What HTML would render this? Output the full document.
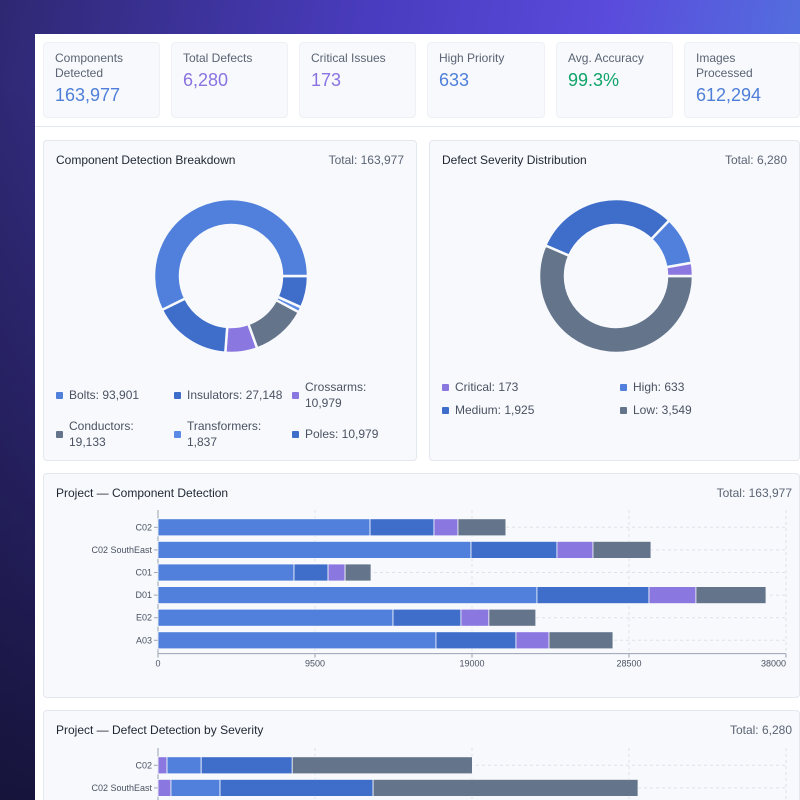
<!DOCTYPE html>
<html><head><meta charset="utf-8"><style>
*{box-sizing:border-box;margin:0;padding:0}
html,body{width:800px;height:800px;overflow:hidden}
body{font-family:"Liberation Sans",sans-serif;background:linear-gradient(100deg,#2e2872 0%,#4a3cbf 40%,#5a4bdc 65%,#4f86df 100%);position:relative}
.bgfade{position:absolute;left:0;top:0;width:800px;height:800px;background:linear-gradient(180deg,rgba(0,0,0,0) 0%,rgba(0,0,0,0) 10%,rgba(10,10,30,0.75) 100%);}
.main{position:absolute;left:35px;top:34px;width:765px;height:766px;background:#fff;overflow:hidden}
.card{position:absolute;top:8px;height:76px;background:#f7f9fc;border:1px solid #eef1f5;border-radius:4px;padding:8px 11px}
.card .l{font-size:12px;color:#5b6474;line-height:15px}
.card .v{font-size:18px;margin-top:4px}
.sep{position:absolute;left:0;top:92px;width:765px;height:1px;background:#e3e7ee}
.panel{position:absolute;background:#f7f9fc;border:1px solid #e3e7ee;border-radius:4px}
.pt{position:absolute;left:12px;top:12px;font-size:12px;color:#1f2633}
.tot{position:absolute;right:12px;top:12px;font-size:12px;color:#5b6474}
.lg{position:absolute;font-size:12px;color:#4a5262;line-height:16px;padding-left:13px}
.lg i{position:absolute;left:0;top:5px;width:7px;height:7px;border-radius:1px}
</style></head><body>
<div class="bgfade"></div>
<div class="main">
<div class="card" style="left:8px;width:117px"><div class="l">Components Detected</div><div class="v" style="color:#4f7fd8">163,977</div></div>
<div class="card" style="left:136px;width:117px"><div class="l">Total Defects</div><div class="v" style="color:#8a73e0">6,280</div></div>
<div class="card" style="left:264px;width:117px"><div class="l">Critical Issues</div><div class="v" style="color:#8a73e0">173</div></div>
<div class="card" style="left:392px;width:118px"><div class="l">High Priority</div><div class="v" style="color:#4f7fd8">633</div></div>
<div class="card" style="left:521px;width:117px"><div class="l">Avg. Accuracy</div><div class="v" style="color:#10a46a">99.3%</div></div>
<div class="card" style="left:649px;width:116px"><div class="l">Images Processed</div><div class="v" style="color:#4f7fd8">612,294</div></div>
<div class="sep"></div>

<div class="panel" style="left:8px;top:106px;width:374px;height:321px">
<div class="pt">Component Detection Breakdown</div>
<div class="tot">Total: 163,977</div>
<svg id="d1" width="372" height="240" style="position:absolute;left:0;top:0"></svg>
<div class="lg" style="left:12px;top:246px"><i style="background:#5080dc"></i>Bolts: 93,901</div>
<div class="lg" style="left:130px;top:246px"><i style="background:#3f6dca"></i>Insulators: 27,148</div>
<div class="lg" style="left:248px;top:238px"><i style="background:#8a77e0;top:13px"></i>Crossarms:<br>10,979</div>
<div class="lg" style="left:12px;top:277px"><i style="background:#64748b;top:13px"></i>Conductors:<br>19,133</div>
<div class="lg" style="left:130px;top:277px"><i style="background:#5b8ae6;top:13px"></i>Transformers:<br>1,837</div>
<div class="lg" style="left:248px;top:285px"><i style="background:#3f6dca"></i>Poles: 10,979</div>
</div>

<div class="panel" style="left:394px;top:106px;width:371px;height:321px">
<div class="pt">Defect Severity Distribution</div>
<div class="tot">Total: 6,280</div>
<svg id="d2" width="369" height="240" style="position:absolute;left:0;top:0"></svg>
<div class="lg" style="left:12px;top:238px"><i style="background:#8a77e0"></i>Critical: 173</div>
<div class="lg" style="left:190px;top:238px"><i style="background:#5080dc"></i>High: 633</div>
<div class="lg" style="left:12px;top:261px"><i style="background:#3f6dca"></i>Medium: 1,925</div>
<div class="lg" style="left:190px;top:261px"><i style="background:#64748b"></i>Low: 3,549</div>
</div>

<div class="panel" style="left:8px;top:439px;width:757px;height:225px">
<div class="pt">Project — Component Detection</div>
<div class="tot" style="right:7px">Total: 163,977</div>
<svg id="b1" width="755" height="223" style="position:absolute;left:0;top:0"></svg>
</div>
<div class="panel" style="left:8px;top:676px;width:757px;height:90px;border-bottom:none;border-radius:4px 4px 0 0">
<div class="pt">Project — Defect Detection by Severity</div>
<div class="tot" style="right:7px">Total: 6,280</div>
<svg id="b2" width="755" height="89" style="position:absolute;left:0;top:0"></svg>
</div>
</div>
<script>
const compLabels=["Bolts","Insulators","Crossarms","Conductors","Transformers","Poles"];
const compValues=[93901,27148,10979,19133,1837,10979];
const compColors=["#5080dc","#3f6dca","#8a77e0","#64748b","#5b8ae6","#3f6dca"];
const sevLabels=["Critical","High","Medium","Low"];
const sevValues=[173,633,1925,3549];
const sevColors=["#8a77e0","#5080dc","#3f6dca","#64748b"];
const projects=["C02","C02 SouthEast","C01","D01","E02","A03"];
const bolts=[12830,18940,8230,22930,14220,16820];
const insulators=[3870,5200,2060,6780,4110,4840];
const crossarms=[1450,2180,1030,2840,1690,2000];
const conductors=[2900,3510,1570,4240,2840,3870];
const compTicks=[0,9500,19000,28500,38000];
const defProjects=["C02","C02 SouthEast"];
const critical=[23,33];
const high=[87,125];
const medium=[232,390];
const low=[459,675];
const defMax=1600;
const NS="http://www.w3.org/2000/svg";
function mk(p,t,a){const e=document.createElementNS(NS,t);for(const k in a)e.setAttribute(k,a[k]);p.appendChild(e);return e;}
function donutRev(svg,vals,cols,labels,cx,cy,R,r){
 const v=[...vals].reverse(),c=[...cols].reverse(),l=[...labels].reverse();
 const tot=v.reduce((a,b)=>a+b,0);let ang=0;
 v.forEach((val,i)=>{const a0=ang,a1=ang+val/tot*2*Math.PI;ang=a1;
  const P=(rad,a)=>[cx+rad*Math.cos(a),cy+rad*Math.sin(a)];
  const [x0,y0]=P(R,a0),[x1,y1]=P(R,a1),[x2,y2]=P(r,a1),[x3,y3]=P(r,a0);
  const lg=(a1-a0)>Math.PI?1:0;
  const p=mk(svg,"path",{d:`M${x0},${y0}A${R},${R} 0 ${lg} 1 ${x1},${y1}L${x2},${y2}A${r},${r} 0 ${lg} 0 ${x3},${y3}Z`,fill:c[i],stroke:"#f7f9fc","stroke-width":2.5});
  
  
 });
}
donutRev(document.getElementById("d1"),compValues,compColors,compLabels,187,135,77,51);
donutRev(document.getElementById("d2"),sevValues,sevColors,sevLabels,186,135,77,51);

function bars(svg,cats,series,cols,names,max,ticks,y0,rowH,showAxis){
 const x0=114,x1=742;const xs=v=>x0+v/max*(x1-x0);
 const axisY=y0+rowH*cats.length+2;
 (ticks.length?ticks:[0,max*0.25,max*0.5,max*0.75,max]).forEach(t=>{
  mk(svg,"line",{x1:xs(t),x2:xs(t),y1:y0-6,y2:axisY,stroke:"#dde2ea","stroke-dasharray":"3,3"});
 });
 mk(svg,"line",{x1:x0,x2:x0,y1:y0-6,y2:axisY,stroke:"#9aa3b2"});
 cats.forEach((c,i)=>{
  const cy=y0+rowH*i+rowH/2;
  mk(svg,"line",{x1:x0,x2:x1,y1:cy,y2:cy,stroke:"#dde2ea","stroke-dasharray":"3,3"});
  const t=mk(svg,"text",{x:x0-6,y:cy+3,"text-anchor":"end","font-size":"9",fill:"#4a5262"});t.textContent=c;
  
  
  mk(svg,"line",{x1:x0-4,x2:x0,y1:cy,y2:cy,stroke:"#9aa3b2"});
  let acc=0;
  series.forEach((s,k)=>{
   const r=mk(svg,"rect",{x:xs(acc),y:cy-8.5,width:xs(acc+s[i])-xs(acc),height:17,fill:cols[k],stroke:"#f7f9fc","stroke-width":0.8});
   
   
   acc+=s[i];
  });
 });
 if(showAxis){
  mk(svg,"line",{x1:x0,x2:x1,y1:axisY,y2:axisY,stroke:"#9aa3b2"});
  ticks.forEach(t=>{
   mk(svg,"line",{x1:xs(t),x2:xs(t),y1:axisY,y2:axisY+4,stroke:"#9aa3b2"});
   const tx=mk(svg,"text",{x:xs(t),y:axisY+13,"text-anchor":(t===ticks[ticks.length-1]?"end":"middle"),"font-size":"9",fill:"#4a5262"});tx.textContent=t;
   
   
  });
 }
}
bars(document.getElementById("b1"),projects,[bolts,insulators,crossarms,conductors],["#5080dc","#3f6dca","#8a77e0","#64748b"],["bolts","insulators","crossarms","conductors"],38000,compTicks,42,22.6,true);
bars(document.getElementById("b2"),defProjects,[critical,high,medium,low],["#8a77e0","#5080dc","#3f6dca","#64748b"],["critical","high","medium","low"],defMax,[],43,22.6,false);
</script>
</body></html>
